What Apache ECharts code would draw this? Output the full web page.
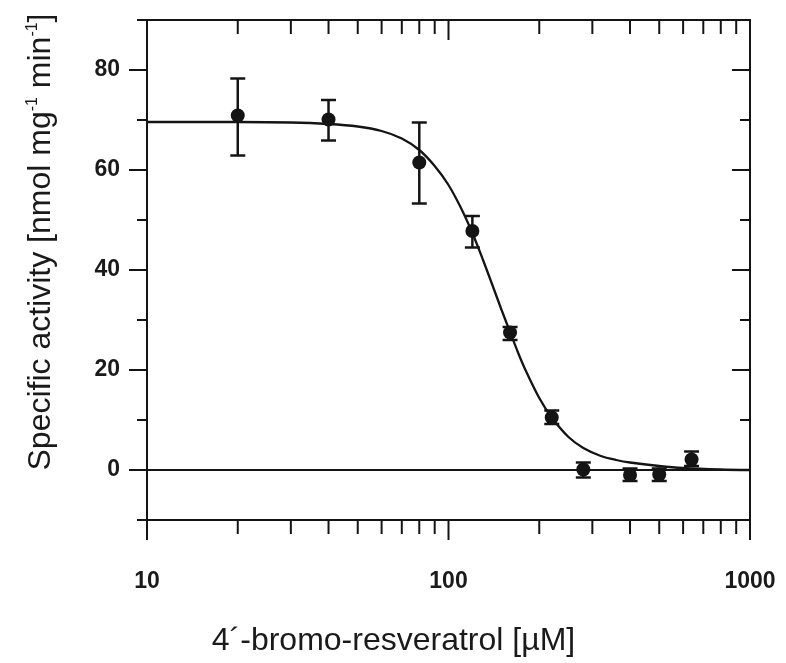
<!DOCTYPE html>
<html>
<head>
<meta charset="utf-8">
<script src="https://cdn.jsdelivr.net/npm/echarts@6/dist/echarts.min.js"></script>
<style>
html,body{margin:0;padding:0;background:#fff;}
#chart{width:786px;height:663px;}
</style>
</head>
<body>
<div id="chart"></div>
<script>
// Measured data points (concentration in µM, specific activity)
var pointX = [20, 40, 80, 120, 160, 220, 280, 400, 500, 640];
var pointY = [70.9, 70.1, 61.5, 47.8, 27.5, 10.5, 0.1, -1.0, -0.9, 2.1];
var errLow = [62.9, 65.9, 53.3, 44.5, 26.0, 9.2, -1.5, -2.2, -2.2, 0.8];
var errHigh = [78.3, 74.0, 69.5, 50.8, 28.6, 11.9, 1.5, 0.3, 0.3, 3.7];

// Fitted curve
var curveX = [10, 20, 30, 40, 50, 60, 70, 80, 90, 100, 110, 120, 130, 140, 150, 160, 170, 180, 200, 220, 250, 280, 320, 360, 400, 500, 600, 800, 1000];
var curveY = [69.6, 69.6, 69.5, 69.2, 68.7, 67.8, 66.3, 64.0, 60.8, 57.0, 52.4, 47.4, 42.1, 36.9, 32.0, 27.6, 23.5, 20.0, 14.4, 10.5, 6.6, 4.4, 2.8, 2.0, 1.5, 0.8, 0.4, 0.1, 0.0];

// Axis ticks
var xMajorTicks = [10, 100, 1000];
var xMinorTicks = [20, 30, 40, 50, 60, 70, 80, 90, 200, 300, 400, 500, 600, 700, 800, 900];
var yMajorTicks = [0, 20, 40, 60, 80];
var yMinorTicks = [-10, 10, 30, 50, 70, 90];
var xLabelValues = [10, 100, 1000];

var chart = echarts.init(document.getElementById('chart'));

var pointData = pointX.map(function (x, i) { return [x, pointY[i]]; });
var errData = pointX.map(function (x, i) { return [x, errLow[i], errHigh[i]]; });
var curveData = curveX.map(function (x, i) { return [x, curveY[i]]; });

var tickData = [];
xMajorTicks.forEach(function (v) { tickData.push([v, 0, 0]); });
xMinorTicks.forEach(function (v) { tickData.push([v, 0, 1]); });
yMajorTicks.forEach(function (v) { tickData.push([10, v, 2]); });
yMinorTicks.forEach(function (v) { tickData.push([10, v, 3]); });

var black = '#141414';
var tickFont = "'Liberation Sans', Arial, sans-serif";
var titleFont = "'Liberation Sans', Arial, sans-serif";

chart.setOption({
  animation: false,
  backgroundColor: '#fff',
  grid: {
    left: 147, right: 36, top: 20, bottom: 143,
    show: true, borderColor: black, borderWidth: 2, backgroundColor: 'transparent'
  },
  xAxis: {
    type: 'log', logBase: 10, min: 10, max: 1000,
    axisLine: { show: false },
    axisTick: { show: false },
    splitLine: { show: false },
    minorTick: { show: false },
    axisLabel: {
      margin: 50,
      fontFamily: tickFont, fontWeight: 'bold', fontSize: 23, color: '#1a1a1a',
      formatter: function (v) { return xLabelValues.indexOf(Math.round(v)) >= 0 ? String(Math.round(v)) : ''; }
    },
    name: '4\u00b4-bromo-resveratrol [\u00b5M]',
    nameLocation: 'middle',
    nameGap: 105,
    nameTextStyle: { fontFamily: titleFont, fontSize: 32, color: '#1a1a1a', padding: [0, 110, 0, 0] }
  },
  yAxis: {
    type: 'value', min: -10, max: 90, interval: 10,
    axisLine: { show: false },
    axisTick: { show: false },
    splitLine: { show: false },
    axisLabel: {
      margin: 27,
      fontFamily: tickFont, fontWeight: 'bold', fontSize: 23, color: '#1a1a1a',
      formatter: function (v) { return yMajorTicks.indexOf(v) >= 0 ? String(v) : ''; }
    },
    name: 'Specific activity [nmol mg{sup|-1} min{sup|-1}]',
    nameLocation: 'middle',
    nameGap: 90,
    nameTextStyle: {
      fontFamily: titleFont, fontSize: 32, color: '#1a1a1a',
      padding: [0, 0, 0, 56],
      rich: {
        sup: { fontFamily: titleFont, fontSize: 16, color: '#1a1a1a', verticalAlign: 'top', lineHeight: 32 }
      }
    }
  },
  series: [
    {
      type: 'custom',
      name: 'ticks',
      clip: false,
      silent: true,
      data: tickData,
      encode: { x: 0, y: 1 },
      renderItem: function (params, api) {
        var cs = params.coordSys;
        var kind = api.value(2);
        var st = { stroke: black, lineWidth: 2 };
        if (kind === 0 || kind === 1) {
          var px = api.coord([api.value(0), 40])[0];
          var len = kind === 0 ? 20 : 14;
          var bottom = cs.y + cs.height;
          return {
            type: 'group', children: [
              { type: 'line', shape: { x1: px, y1: bottom, x2: px, y2: bottom + len }, style: st },
              { type: 'line', shape: { x1: px, y1: cs.y, x2: px, y2: cs.y + len }, style: st }
            ]
          };
        } else {
          var py = api.coord([100, api.value(1)])[1];
          var lenY = kind === 2 ? 18 : 10;
          var right = cs.x + cs.width;
          return {
            type: 'group', children: [
              { type: 'line', shape: { x1: cs.x - lenY, y1: py, x2: cs.x, y2: py }, style: st },
              { type: 'line', shape: { x1: right - lenY, y1: py, x2: right, y2: py }, style: st }
            ]
          };
        }
      },
      z: 1
    },
    {
      type: 'line',
      name: 'fit',
      data: curveData,
      showSymbol: false,
      smooth: 0.3,
      lineStyle: { color: black, width: 2.3 },
      silent: true,
      markLine: {
        silent: true,
        symbol: ['none', 'none'],
        label: { show: false },
        lineStyle: { color: black, width: 2, type: 'solid' },
        data: [{ yAxis: 0 }]
      },
      z: 2
    },
    {
      type: 'custom',
      name: 'error',
      data: errData,
      encode: { x: 0, y: [1, 2] },
      renderItem: function (params, api) {
        var lo = api.coord([api.value(0), api.value(1)]);
        var hi = api.coord([api.value(0), api.value(2)]);
        var cap = 7.5;
        var st = { stroke: black, lineWidth: 2.5 };
        return {
          type: 'group', children: [
            { type: 'line', shape: { x1: lo[0], y1: lo[1], x2: hi[0], y2: hi[1] }, style: st },
            { type: 'line', shape: { x1: lo[0] - cap, y1: lo[1], x2: lo[0] + cap, y2: lo[1] }, style: st },
            { type: 'line', shape: { x1: hi[0] - cap, y1: hi[1], x2: hi[0] + cap, y2: hi[1] }, style: st }
          ]
        };
      },
      z: 3
    },
    {
      type: 'scatter',
      name: 'points',
      data: pointData,
      symbol: 'circle',
      symbolSize: 14,
      itemStyle: { color: black, opacity: 1 },
      z: 4
    }
  ]
});
</script>
</body>
</html>
